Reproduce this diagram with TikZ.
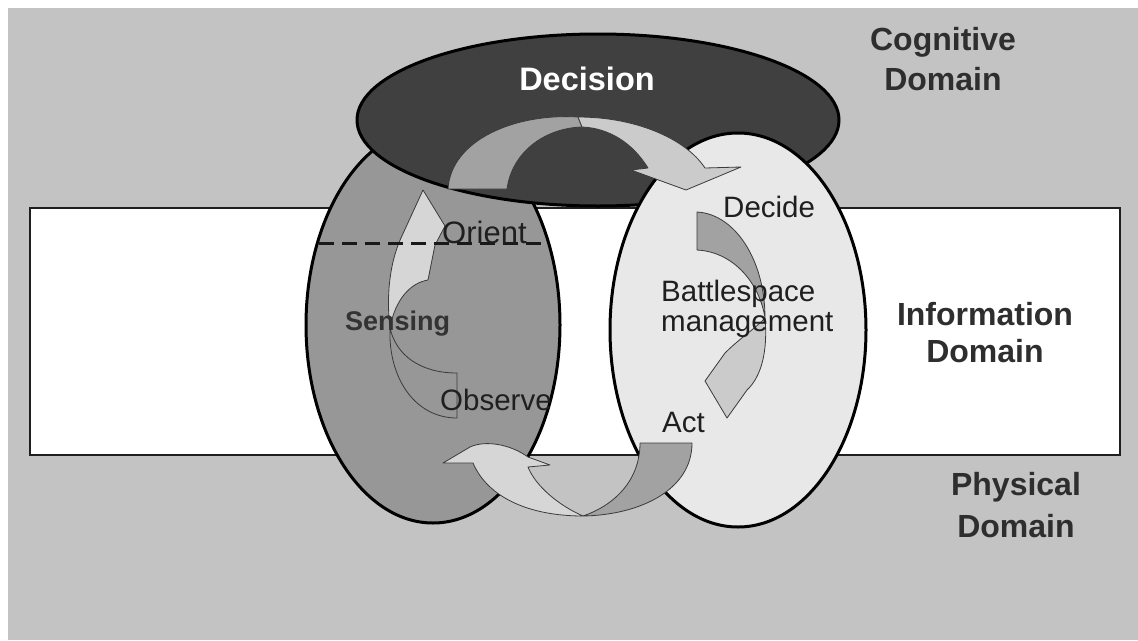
\documentclass[tikz,border=0pt]{standalone}
\usepackage{fontspec}
\setmainfont{Liberation Sans}

\definecolor{pagegray}{HTML}{C3C3C3}
\definecolor{sensegray}{HTML}{979797}
\definecolor{decidark}{HTML}{404040}
\definecolor{actlight}{HTML}{E8E8E8}
\definecolor{arrowlight}{HTML}{CBCBCB}
\definecolor{arrowpale}{HTML}{D6D6D6}
\definecolor{arrowdark}{HTML}{A2A2A2}
\definecolor{inkgray}{HTML}{2E2E2E}
\definecolor{edgegray}{HTML}{3A3A3A}

\begin{document}
\begin{tikzpicture}[x=1pt,y=-1pt,
  domainring/.style={draw=black, line width=3pt},
  arrowback/.style={fill=arrowdark, draw=edgegray, line width=0.8pt, line join=round},
  arrowfront/.style={fill=arrowlight, draw=edgegray, line width=0.8pt, line join=round},
  domainlbl/.style={inner sep=0pt, align=center, text=inkgray},
  looplbl/.style={inner sep=0pt, text=black!88, font=\fontsize{29.5}{30}\selectfont},
]
\useasboundingbox (0,0) rectangle (1138,640);

% page and the three domain layers
\fill[white] (0,0) rectangle (1138,640);
\fill[pagegray] (8,8) rectangle (1138,640);
\draw[fill=white, draw=black!88, line width=2pt] (30,208) rectangle (1120,455);

% sensing, decision and battlespace management regions
\draw[domainring, fill=sensegray] (433,325) ellipse [x radius=127pt, y radius=198pt];
\draw[domainring, fill=decidark] (598,120) ellipse [x radius=241pt, y radius=86pt];
\draw[domainring, fill=actlight] (738,330) ellipse [x radius=128pt, y radius=197pt];

% Orient -> Decide (over the decision region)
\draw[arrowback] (448,189) .. controls (451,140) and (515,113) .. (578,117)
  -- (582,127) .. controls (545,128) and (512,152) .. (507,189) -- cycle;
\draw[arrowfront] (578,117) .. controls (635,117) and (685,138) .. (705,168)
  -- (741,167) -- (686,190) -- (631,170) -- (648,168)
  .. controls (632,142) and (608,128) .. (582,127) -- cycle;

% Decide -> Act
\draw[arrowback] (697,212) .. controls (735,214) and (765,260) .. (765,318)
  .. controls (760,285) and (735,252) .. (697,250) -- cycle;
\draw[arrowfront] (765,318) .. controls (768,352) and (761,377) .. (747,390)
  -- (727,418) -- (705,381) -- (725,353)
  .. controls (740,338) and (756,328) .. (765,318) -- cycle;

% Observe -> Orient
\draw[arrowback, fill=sensegray] (457,418) .. controls (415,418) and (388,378) .. (390,328)
  .. controls (396,355) and (420,373) .. (457,373) -- cycle;
\draw[arrowfront, fill=arrowpale] (390,328) .. controls (386,295) and (390,262) .. (401,238)
  -- (423,190) -- (445,226) -- (435,245) -- (428,280)
  .. controls (410,283) and (395,300) .. (390,328) -- cycle;

% Act -> Observe (through the physical domain)
\draw[arrowback] (692,443) .. controls (692,490) and (640,515) .. (583,516)
  .. controls (615,505) and (640,480) .. (640,443) -- cycle;
\draw[arrowfront, fill=arrowpale] (583,516) .. controls (530,516) and (488,498) .. (473,463)
  -- (443,463) -- (470,447) .. controls (485,440) and (510,444) .. (528,457)
  -- (550,465) -- (528,467) .. controls (536,487) and (560,506) .. (583,516) -- cycle;

% boundary between sensing and cognition
\coordinate (dashL) at (319,243);
\coordinate (dashR) at (548,243);
\draw[black!90, line width=3pt, dash pattern=on 15pt off 8pt] (dashL) -- (dashR);

% domain names
\node[domainlbl, font=\bfseries\fontsize{32}{40}\selectfont] (cognitive) at (943,59) {Cognitive\\Domain};
\node[domainlbl, font=\bfseries\fontsize{32}{37}\selectfont] (information) at (985,332.5) {Information\\Domain};
\node[domainlbl, font=\bfseries\fontsize{32}{42}\selectfont] (physical) at (1016,505) {Physical\\Domain};

% region and step labels
\node[inner sep=0pt, anchor=base, text=white, font=\bfseries\fontsize{32.5}{34}\selectfont] (decision) at (587,90) {Decision};
\node[inner sep=0pt, anchor=base west, text=black!80, font=\bfseries\fontsize{27}{28}\selectfont] (sensing) at (345,330) {Sensing};
\node[looplbl, anchor=base west, font=\fontsize{31}{32}\selectfont] (orient) at (442,243) {Orient};
\node[looplbl, anchor=base west] (observe) at (440,410) {Observe};
\node[looplbl, anchor=base west] (decide) at (723,217) {Decide};
\node[looplbl, anchor=west, align=left] (battlespace) at (661,308.5) {Battlespace\\management};
\node[looplbl, anchor=base west] (act) at (662,432) {Act};
\end{tikzpicture}
\end{document}
